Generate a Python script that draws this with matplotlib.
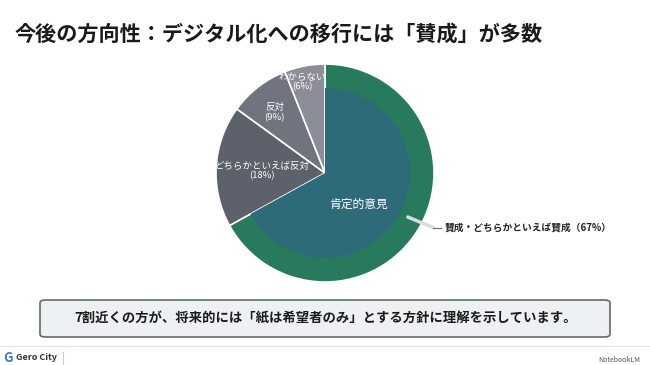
import matplotlib
matplotlib.use("Agg")
import numpy as np
import matplotlib.pyplot as plt
from matplotlib.patches import FancyBboxPatch

plt.rcParams['font.family'] = ['Noto Sans CJK JP', 'DejaVu Sans']

# data
categories = ["肯定的意見", "どちらかといえば反対", "反対", "わからない"]
shares = [67, 18, 9, 6]
inner_labels = ["肯定的意見", "どちらかといえば反対\n(18%)", "反対\n(9%)", "わからない\n(6%)"]
outer_label = "賛成・どちらかといえば賛成（67%）"
title = "今後の方向性：デジタル化への移行には「賛成」が多数"
summary = "7割近くの方が、将来的には「紙は希望者のみ」とする方針に理解を示しています。"

colors = ["#287a5c", "#5c616b", "#6f747e", "#8b8e98"]
inner_color = "#2d6b78"

W, H = 650, 365
fig = plt.figure(figsize=(W / 100, H / 100), dpi=100)
fig.patch.set_facecolor("white")

# pie axes placed in pixel terms
cx, cy, r = 325, 173, 109
ax = fig.add_axes([(cx - r) / W, (H - cy - r) / H, 2 * r / W, 2 * r / H])
wedges, _ = ax.pie(shares, colors=colors, startangle=90, counterclock=False,
                   radius=1, wedgeprops=dict(edgecolor="white", linewidth=1.2))
# inner teal part of the positive slice
inner, _ = ax.pie(shares, colors=[inner_color] + colors[1:], startangle=90,
                  counterclock=False, radius=0.78,
                  wedgeprops=dict(edgecolor="none", linewidth=0))
for w in inner[1:]:
    w.set_visible(False)
ax.set_xlim(-1.0, 1.0)
ax.set_ylim(-1.0, 1.0)
ax.set_aspect("equal")
ax.axis("off")

# labels inside slices
label_r = [0.42, 0.58, 0.72, 0.86]
label_off = [-12, 2, 2, 3]
label_size = [8.5, 6.8, 6.8, 6.8]
for w, txt, lr, off, fs in zip(wedges, inner_labels, label_r, label_off, label_size):
    ang = np.deg2rad((w.theta1 + w.theta2) / 2 + off)
    ax.text(lr * np.cos(ang), lr * np.sin(ang), txt, ha="center", va="center",
            color="white", fontsize=fs, linespacing=1.1)

# leader line for the positive slice
a0 = np.deg2rad(-28)
x0, y0 = 0.86 * np.cos(a0), 0.86 * np.sin(a0)
ax.plot([x0, 0.99], [y0, -0.5], color="#d8dcdc", lw=2.5, solid_capstyle="round", clip_on=False)
ax.plot([0.99, 1.06], [-0.5, -0.5], color="#666666", lw=0.8, clip_on=False)
ax.text(1.1, -0.5, outer_label, ha="left", va="center", fontsize=7,
        fontweight="bold", color="#222222")

# title
fig.text(15 / W, 1 - 34 / H, title, ha="left", va="center", fontsize=15.2,
         fontweight="bold", color="#1a1a1a")

# summary box
box = FancyBboxPatch((40 / W, 1 - 337 / H), 570 / W, 37 / H,
                     boxstyle="round,pad=0,rounding_size=0.008",
                     transform=fig.transFigure, facecolor="#eef1f1",
                     edgecolor="#5f6b72", linewidth=1.2)
fig.patches.append(box)
fig.text(326 / W, 1 - 318.5 / H, summary, ha="center", va="center",
         fontsize=9.6, fontweight="bold", color="#1a1a1a")

# footer
fig.lines.append(plt.Line2D([0, 1], [1 - 346 / H] * 2, transform=fig.transFigure,
                            color="#e2e2e2", lw=0.8))
fig.lines.append(plt.Line2D([63 / W] * 2, [1 - 352 / H, 1 - 364 / H],
                            transform=fig.transFigure, color="#d0d0d0", lw=0.8))
fig.text(3 / W, 1 - 358 / H, "G", ha="left", va="center", fontsize=9.5,
         fontweight="bold", color="#3a7bc8")
fig.text(16 / W, 1 - 358 / H, "Gero City", ha="left", va="center", fontsize=6.5,
         fontweight="bold", color="#333333")
fig.text(598 / W, 1 - 360 / H, "NotebookLM", ha="left", va="center", fontsize=5,
         color="#555555")

fig.savefig("out.png", dpi=100)
